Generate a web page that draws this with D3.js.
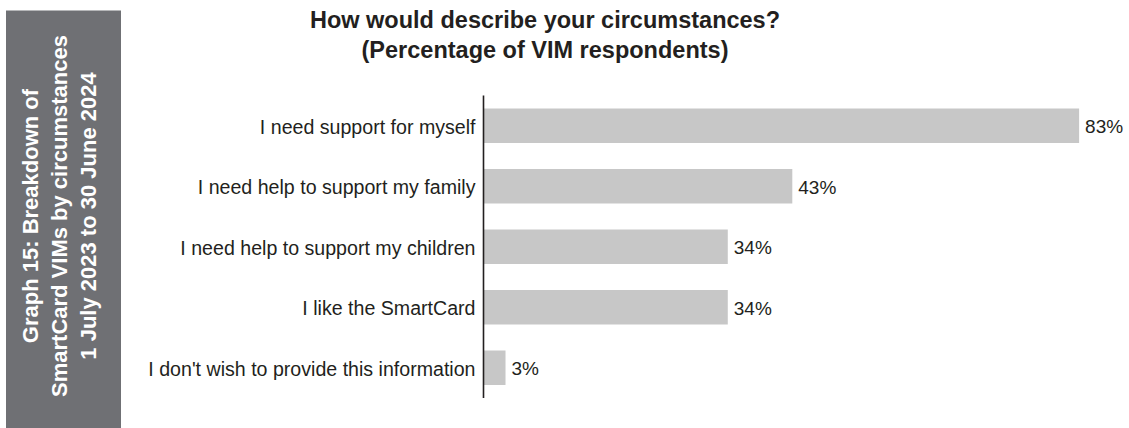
<!DOCTYPE html>
<html>
<head>
<meta charset="utf-8">
<script src="https://cdn.jsdelivr.net/npm/d3@7"></script>
<style>
  html, body { margin: 0; padding: 0; background: #fff; }
  svg { display: block; font-family: "Liberation Sans", Arial, Helvetica, sans-serif; }
</style>
</head>
<body>
<svg id="chart" width="1129" height="428"></svg>
<script>
// Survey answers and the share of respondents choosing each
const categories = [
  "I need support for myself",
  "I need help to support my family",
  "I need help to support my children",
  "I like the SmartCard",
  "I don't wish to provide this information"
];
const values = [83, 43, 34, 34, 3];

const titleLines = [
  "How would describe your circumstances?",
  "(Percentage of VIM respondents)"
];
const sideLines = [
  "Graph 15: Breakdown of",
  "SmartCard VIMs by circumstances",
  "1 July 2023 to 30 June 2024"
];

const svg = d3.select("#chart");
const textColor = "#231f20";

// Grey side panel with rotated caption
svg.append("rect")
  .attr("x", 6).attr("y", 10.5)
  .attr("width", 115).attr("height", 418)
  .attr("fill", "#6f7074");

const side = svg.append("g").attr("transform", "translate(0,216)");
side.selectAll("text")
  .data(sideLines)
  .join("text")
  .attr("transform", (d, i) => `translate(${38 + i * 29},0) rotate(-90)`)
  .attr("text-anchor", "middle")
  .attr("fill", "#ffffff")
  .attr("font-weight", "bold")
  .attr("font-size", 22)
  .text(d => d);

// Title
svg.append("g").selectAll("text")
  .data(titleLines)
  .join("text")
  .attr("x", 545)
  .attr("y", (d, i) => 28 + i * 29.5)
  .attr("text-anchor", "middle")
  .attr("font-weight", "bold")
  .attr("font-size", 23.5)
  .attr("fill", textColor)
  .text(d => d);

// Scales
const x = d3.scaleLinear().domain([0, 100]).range([484, 1201]);
const y = d3.scaleBand()
  .domain(categories)
  .range([95.5, 398])
  .paddingInner(0.43)
  .paddingOuter(0.215);

// Bars
svg.append("g").selectAll("rect")
  .data(categories)
  .join("rect")
  .attr("x", x(0))
  .attr("y", d => y(d))
  .attr("width", (d, i) => x(values[i]) - x(0))
  .attr("height", y.bandwidth())
  .attr("fill", "#c7c7c7");

// Category axis on the left
const axis = svg.append("g")
  .attr("transform", `translate(${x(0) - 0.5},0)`)
  .call(d3.axisLeft(y).tickSize(0).tickPadding(8));
axis.select(".domain")
  .attr("stroke", "#231f20")
  .attr("stroke-width", 1.6)
  .attr("d", `M0,${y.range()[0]}V${y.range()[1]}`);
axis.selectAll(".tick text")
  .attr("font-family", "\"Liberation Sans\", Arial, Helvetica, sans-serif")
  .attr("font-size", 19.6)
  .attr("fill", textColor)
  .attr("dy", "0.4em");

// Value labels at the bar ends
svg.append("g").selectAll("text")
  .data(categories)
  .join("text")
  .attr("x", (d, i) => x(values[i]) + 6)
  .attr("y", d => y(d) + y.bandwidth() / 2)
  .attr("dy", "0.4em")
  .attr("font-size", 19)
  .attr("fill", textColor)
  .text((d, i) => values[i] + "%");
</script>
</body>
</html>
